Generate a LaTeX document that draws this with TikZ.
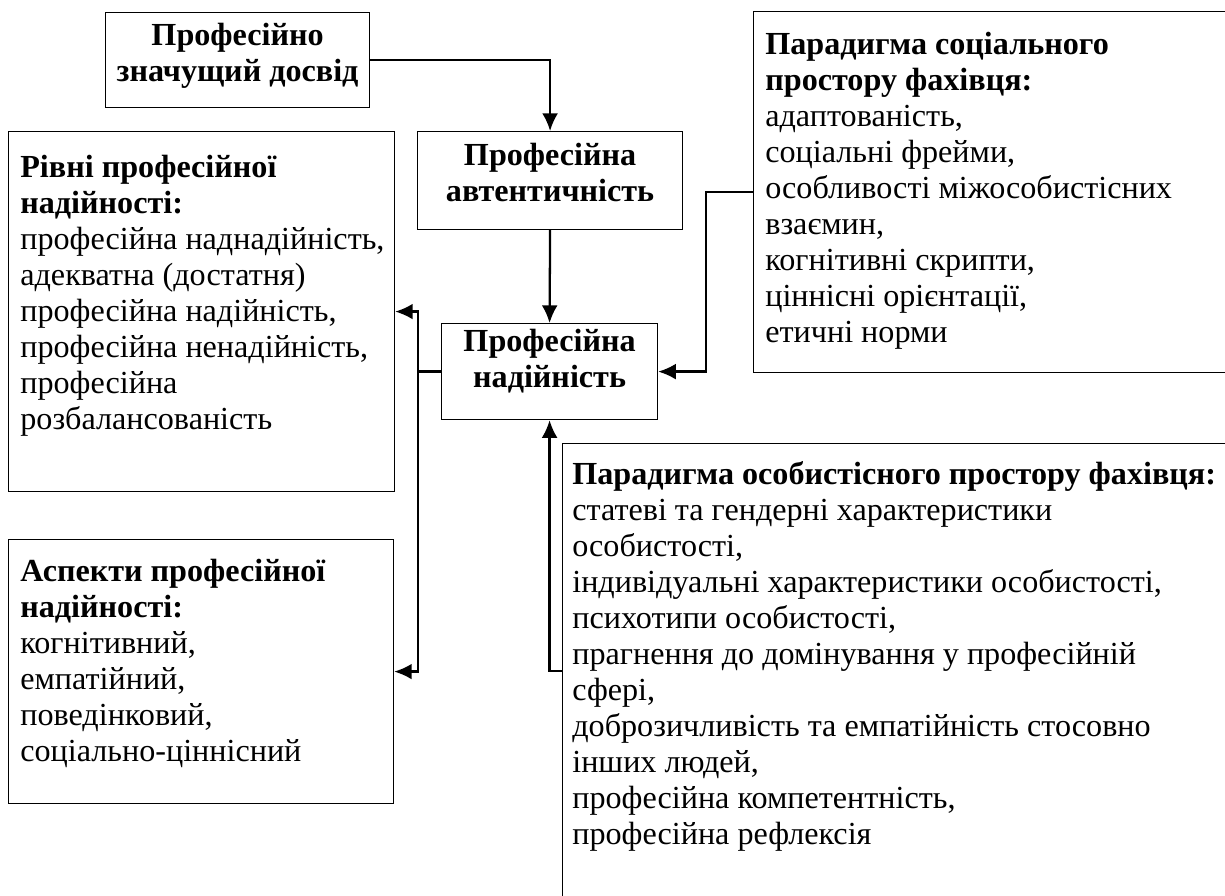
\documentclass[tikz,border=0pt]{standalone}
\usepackage{fontspec}
\setmainfont{Liberation Serif}
\usetikzlibrary{arrows.meta}

\tikzset{
  frame/.style={draw, line width=0.7pt, anchor=north west, inner sep=0pt},
  title/.style={inner sep=0pt, align=center, font=\bfseries\fontsize{18.3}{20.5}\selectfont},
  list/.style={anchor=north west, inner sep=0pt, align=left, font=\fontsize{18.3}{20.5}\selectfont},
  link/.style={line width=1.3pt, >={Latex[length=10pt,width=9pt]}, ->},
}

\begin{document}
\begin{tikzpicture}[x=0.02cm, y=-0.02cm]
\clip (0,0) rectangle (1225,896);
% central chain
\node[frame, minimum width=5.28cm, minimum height=1.9cm] (exp) at (105,12) {};
\node[title] (exptext) at ([shift={(0,-4)}]exp.center) {Професійно\\значущий досвід};
\node[frame, minimum width=5.3cm, minimum height=1.96cm] (auth) at (417,131) {};
\node[title] (authtext) at ([shift={(0,-8)}]auth.center) {Професійна\\автентичність};
\node[frame, minimum width=4.32cm, minimum height=1.92cm] (rel) at (441,323) {};
\node[title] (reltext) at ([shift={(0,-10)}]rel.center) {Професійна\\надійність};
% side boxes
\node[frame, minimum width=7.72cm, minimum height=7.2cm] (levels) at (8,131) {};
\node[list] (levelstext) at ([shift={(12,24)}]levels.north west)
  {\textbf{Рівні професійної}\\\textbf{надійності:}\\професійна наднадійність,\\адекватна (достатня)\\професійна надійність,\\професійна ненадійність,\\професійна\\розбалансованість};
\node[frame, minimum width=7.7cm, minimum height=5.28cm] (aspects) at (8,539) {};
\node[list] (aspectstext) at ([shift={(12,20)}]aspects.north west)
  {\textbf{Аспекти професійної}\\\textbf{надійності:}\\когнітивний,\\емпатійний,\\поведінковий,\\соціально-ціннісний};
\node[frame, minimum width=10cm, minimum height=7.22cm] (soc) at (753,11) {};
\node[list] (soctext) at ([shift={(12,21)}]soc.north west)
  {\textbf{Парадигма соціального}\\\textbf{простору фахівця:}\\адаптованість,\\соціальні фрейми,\\особливості міжособистісних\\взаємин,\\когнітивні скрипти,\\ціннісні орієнтації,\\етичні норми};
\node[frame, minimum width=14cm, minimum height=9.1cm] (pers) at (562,443) {};
\node[list] (perstext) at ([shift={(10,18)}]pers.north west)
  {\textbf{Парадигма особистісного простору фахівця:}\\статеві та гендерні характеристики\\особистості,\\індивідуальні характеристики особистості,\\психотипи особистості,\\прагнення до домінування у професійній\\сфері,\\доброзичливість та емпатійність стосовно\\інших людей,\\професійна компетентність,\\професійна рефлексія};
% connectors
\draw[link] (exp.east) -| (auth.north);
\draw[link] (auth.south) -- (rel.north);
\draw[link] (soc.west) -- ++(-47,0) |- (rel.east);
\draw[link] (rel.west) -- ++(-23,0) coordinate (split) |- (levels.east);
\draw[link] (split) |- (aspects.east);
\draw[link] (pers.west) -| (rel.south);
\end{tikzpicture}
\end{document}
